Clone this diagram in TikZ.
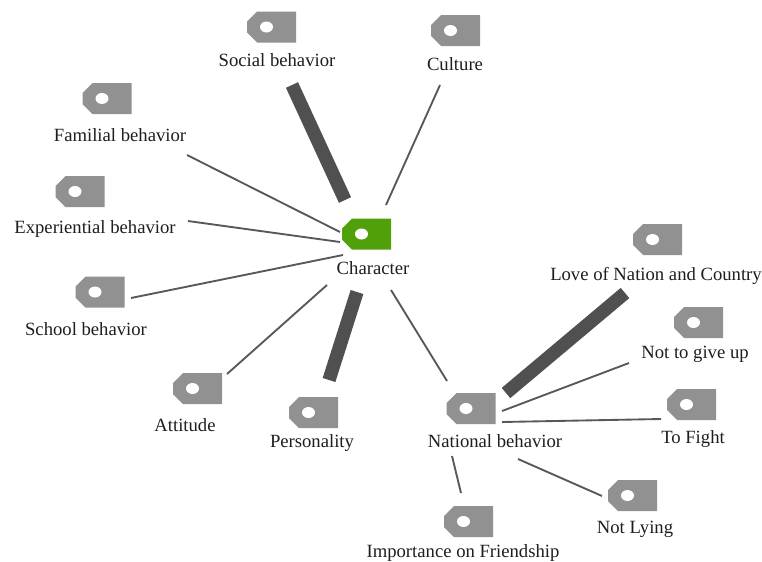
\documentclass[tikz,border=0pt]{standalone}
\usepackage{fontspec}
\setmainfont{Liberation Serif}
\definecolor{taggray}{RGB}{145,145,145}
\definecolor{taggreen}{RGB}{80,160,10}
\definecolor{linkgray}{RGB}{88,88,88}
\definecolor{barkgray}{RGB}{80,80,80}
\definecolor{labelink}{RGB}{30,30,30}
\tikzset{
  x=0.75pt,y=-0.75pt,
  tagbox/.style={draw=none,inner sep=0pt,minimum width=36.75pt,minimum height=23pt},
  lbl/.style={inner sep=0pt,text=labelink,font=\fontsize{14pt}{16pt}\selectfont},
  thin link/.style={draw=linkgray,line width=1.4pt},
  thick link/.style={draw=barkgray,line width=10pt}
}
% \tagshape{name}{cx}{cy}{colour}
\newcommand{\tagshape}[4]{%
  \fill[#4] (#2-24.5,#3-5.5) -- (#2-14.5,#3-15.5) -- (#2+24.5,#3-15.5) -- (#2+24.5,#3+15.5)
    -- (#2-14.5,#3+15.5) -- (#2-24.5,#3+5.5) -- cycle;
  \fill[white] (#2-5,#3) circle[x radius=6.5,y radius=5.5];
  \node[tagbox] (#1) at (#2,#3) {};
}
\begin{document}
\begin{tikzpicture}
\useasboundingbox (0,0) rectangle (762,561);
\fill[white] (0,0) rectangle (762,561);

\tagshape{tsocial}{271.5}{27}{taggray}
\tagshape{tculture}{455.5}{30.5}{taggray}
\tagshape{tfamilial}{107}{98.5}{taggray}
\tagshape{texper}{80}{191.5}{taggray}
\tagshape{tchar}{366.5}{234}{taggreen}
\tagshape{tschool}{100}{292}{taggray}
\tagshape{tlove}{657.5}{239.5}{taggray}
\tagshape{tgiveup}{698.5}{322.5}{taggray}
\tagshape{tfight}{691.5}{404.5}{taggray}
\tagshape{tattitude}{197.5}{388.5}{taggray}
\tagshape{tperson}{313.5}{412.5}{taggray}
\tagshape{tnational}{471}{408.5}{taggray}
\tagshape{tlying}{632.5}{495.5}{taggray}
\tagshape{tfriend}{468.5}{521.5}{taggray}

\node[lbl] (lsocial) at (277,60.5) {Social behavior};
\node[lbl] (lculture) at (455,64.5) {Culture};
\node[lbl] (lfamilial) at (120,135.5) {Familial behavior};
\node[lbl] (lexper) at (95,229.5) {Experiential behavior};
\node[lbl] (lchar) at (373,268.5) {Character};
\node[lbl] (lschool) at (86,329.5) {School behavior};
\node[lbl] (llove) at (656,275.5) {Love of Nation and Country};
\node[lbl] (lgiveup) at (695,354.5) {Not to give up};
\node[lbl] (lfight) at (693,439.5) {To Fight};
\node[lbl] (lattitude) at (185,425.5) {Attitude};
\node[lbl] (lperson) at (312,443.5) {Personality};
\node[lbl] (lnational) at (495,441.5) {National behavior};
\node[lbl] (llying) at (635,529.5) {Not Lying};
\node[lbl] (lfriend) at (463,552.5) {Importance on Friendship};

% connector ends, which stop short of the tags as in the picture
\coordinate (a1) at (292,85);   \coordinate (a2) at (345,200);
\coordinate (b1) at (440,85);   \coordinate (b2) at (386,205);
\coordinate (c1) at (187,155);  \coordinate (c2) at (340,232);
\coordinate (d1) at (188,221);  \coordinate (d2) at (340,242);
\coordinate (e1) at (131,298);  \coordinate (e2) at (343,255);
\coordinate (f1) at (227,374);  \coordinate (f2) at (327,285);
\coordinate (g1) at (357,292);  \coordinate (g2) at (329,380);
\coordinate (h1) at (391,290);  \coordinate (h2) at (447,381);
\coordinate (i1) at (625,293);  \coordinate (i2) at (506,393);
\coordinate (j1) at (502,411);  \coordinate (j2) at (629,363);
\coordinate (k1) at (502,422);  \coordinate (k2) at (661,419);
\coordinate (l1) at (518,459);  \coordinate (l2) at (602,496);
\coordinate (m1) at (452,456);  \coordinate (m2) at (461,493);

\draw[thick link] (a1) -- (a2);
\draw[thin link] (b1) -- (b2);
\draw[thin link] (c1) -- (c2);
\draw[thin link] (d1) -- (d2);
\draw[thin link] (e1) -- (e2);
\draw[thin link] (f1) -- (f2);
\draw[thick link] (g1) -- (g2);
\draw[thin link] (h1) -- (h2);
\draw[thick link] (i1) -- (i2);
\draw[thin link] (j1) -- (j2);
\draw[thin link] (k1) -- (k2);
\draw[thin link] (l1) -- (l2);
\draw[thin link] (m1) -- (m2);
\end{tikzpicture}
\end{document}
